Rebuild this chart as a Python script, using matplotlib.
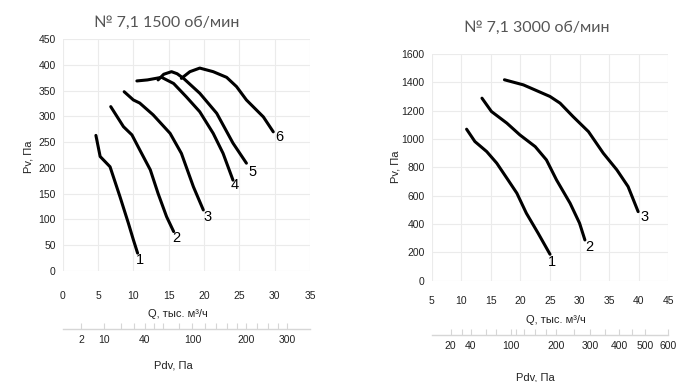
import numpy as np
import matplotlib
matplotlib.use("Agg")
import matplotlib.pyplot as plt

# ---- data ----
# 1500 rpm, Q in thousand m3/h, Pv in Pa
q15_1 = [4.7, 5.3, 6.7, 8.1, 9.3, 10.0, 10.6]
p15_1 = [263, 222, 202, 144, 92, 60, 34]
q15_2 = [6.8, 8.6, 9.8, 10.9, 12.4, 13.5, 14.7, 15.7]
p15_2 = [319, 280, 264, 235, 196, 150, 105, 76]
q15_3 = [8.7, 10.0, 10.9, 12.8, 15.2, 16.8, 18.5, 19.9]
p15_3 = [348, 332, 326, 303, 267, 228, 163, 118]
q15_4 = [10.5, 12.0, 14.0, 15.7, 17.5, 19.4, 21.3, 22.7, 24.1]
p15_4 = [369, 371, 376, 364, 338, 309, 267, 228, 176]
q15_5 = [13.5, 14.3, 15.4, 16.2, 17.1, 19.4, 21.8, 24.1, 26.0]
p15_5 = [371, 382, 387, 383, 374, 345, 306, 248, 209]
q15_6 = [16.8, 18.0, 19.4, 21.3, 23.2, 24.6, 26.0, 28.4, 29.8]
p15_6 = [374, 387, 394, 387, 376, 358, 332, 299, 270]
curves15 = [(q15_1, p15_1), (q15_2, p15_2), (q15_3, p15_3),
            (q15_4, p15_4), (q15_5, p15_5), (q15_6, p15_6)]
names15 = ["1", "2", "3", "4", "5", "6"]
lab15_q = [11.0, 16.1, 20.5, 24.4, 26.8, 30.7]
lab15_p = [21, 63, 105, 166, 192, 260]

# 3000 rpm
q30_1 = [10.9, 12.3, 14.3, 16.0, 17.9, 19.4, 21.0, 23.0, 25.0]
p30_1 = [1069, 982, 911, 829, 711, 617, 476, 334, 186]
q30_2 = [13.5, 15.1, 17.7, 19.9, 22.5, 24.4, 26.1, 28.4, 30.0, 30.9]
p30_2 = [1288, 1194, 1112, 1029, 946, 852, 711, 546, 405, 287]
q30_3 = [17.3, 20.5, 22.7, 25.0, 26.7, 28.9, 31.5, 34.0, 36.3, 38.2, 39.9]
p30_3 = [1418, 1382, 1342, 1300, 1253, 1158, 1052, 900, 782, 664, 487]
curves30 = [(q30_1, p30_1), (q30_2, p30_2), (q30_3, p30_3)]
names30 = ["1", "2", "3"]
lab30_q = [25.3, 31.6, 40.9]
lab30_p = [134, 240, 447]

# dynamic pressure scale Pdv ~ Q^2 / k
k_dyn = 3.37
pdv15_ticks = [2, 10, 20, 30, 40, 50, 60, 80, 100, 120, 140, 160, 180, 200, 225, 250, 275, 300]
pdv15_labels = [2, 10, 40, 100, 200, 300]
pdv30_ticks = [20, 30, 40, 60, 75, 100, 110, 125, 150, 175, 200, 250, 300, 350, 400, 450, 500, 600]
pdv30_labels = [20, 40, 100, 200, 300, 400, 500, 600]

W, H = 700, 382
fig = plt.figure(figsize=(7.0, 3.82), dpi=100)
plt.rcParams['font.family'] = ['Liberation Sans', 'DejaVu Sans']

grid_c = "#ebebeb"
tick_c = "#222222"


def px(x, y):
    return x / W, 1 - y / H


def fwd(q):
    return np.asarray(q, dtype=float) ** 2 / k_dyn


def inv(p):
    return np.sqrt(np.maximum(np.asarray(p, dtype=float), 0) * k_dyn)


def make_panel(rect, xlim, xticks, ylim, yticks, curves, names, lq, lp,
               pdv_ticks, pdv_labels, sec_loc, xpad):
    ax = fig.add_axes(rect)
    ax.set_xlim(*xlim)
    ax.set_ylim(*ylim)
    ax.set_xticks(xticks)
    ax.set_yticks(yticks)
    for s in ax.spines.values():
        s.set_visible(False)
    ax.grid(True, color=grid_c, linewidth=0.8)
    ax.set_axisbelow(True)
    ax.tick_params(length=0, labelsize=7.5, labelcolor=tick_c)
    ax.tick_params(axis="x", pad=xpad)
    ax.tick_params(axis="y", pad=5)
    for (q, p), n, x, y in zip(curves, names, lq, lp):
        ax.plot(q, p, color="black", linewidth=2.2, solid_capstyle="round",
                solid_joinstyle="round")
        ax.text(x, y, n, fontsize=10.5, color="black", ha="center", va="center")
    sec = ax.secondary_xaxis(sec_loc, functions=(fwd, inv))
    sec.set_xticks(pdv_ticks)
    sec.set_xticklabels([str(t) if t in pdv_labels else "" for t in pdv_ticks])
    sec.spines["bottom"].set_color("#d6d6d6")
    sec.spines["bottom"].set_linewidth(1.0)
    sec.tick_params(direction="in", length=4, width=0.8, color="#d6d6d6",
                    labelsize=7.5, labelcolor=tick_c, pad=4)
    return ax


make_panel([62.7 / W, 1 - 270.6 / H, (310 - 62.7) / W, (270.6 - 39.3) / H],
           (0, 35), range(0, 36, 5), (0, 450), range(0, 451, 50),
           curves15, names15, lab15_q, lab15_p,
           pdv15_ticks, pdv15_labels, -0.254, 15)

make_panel([431.7 / W, 1 - 280.6 / H, (668.3 - 431.7) / W, (280.6 - 54) / H],
           (5, 45), range(5, 46, 5), (0, 1600), range(0, 1601, 200),
           curves30, names30, lab30_q, lab30_p,
           pdv30_ticks, pdv30_labels, -0.24, 11)

# titles and axis names
title_kw = dict(fontsize=11.5, color="#555555", ha="center", va="center",
                family=["Lato", "DejaVu Sans"], fontweight="normal")
fig.text(*px(167, 22.7), "№ 7,1 1500 об/мин", **title_kw)
fig.text(*px(537, 28.3), "№ 7,1 3000 об/мин", **title_kw)

lab_kw = dict(fontsize=8, color=tick_c, ha="center", va="center")
fig.text(*px(28.3, 157), "Pv, Па", rotation=90, **lab_kw)
fig.text(*px(395, 167), "Pv, Па", rotation=90, **lab_kw)
fig.text(*px(178, 314), "Q, тыс. м³/ч", **lab_kw)
fig.text(*px(556, 320), "Q, тыс. м³/ч", **lab_kw)
fig.text(*px(173, 366), "Pdv, Па", **lab_kw)
fig.text(*px(535, 377), "Pdv, Па", **lab_kw)

fig.savefig("out.png", dpi=100, facecolor="white")
